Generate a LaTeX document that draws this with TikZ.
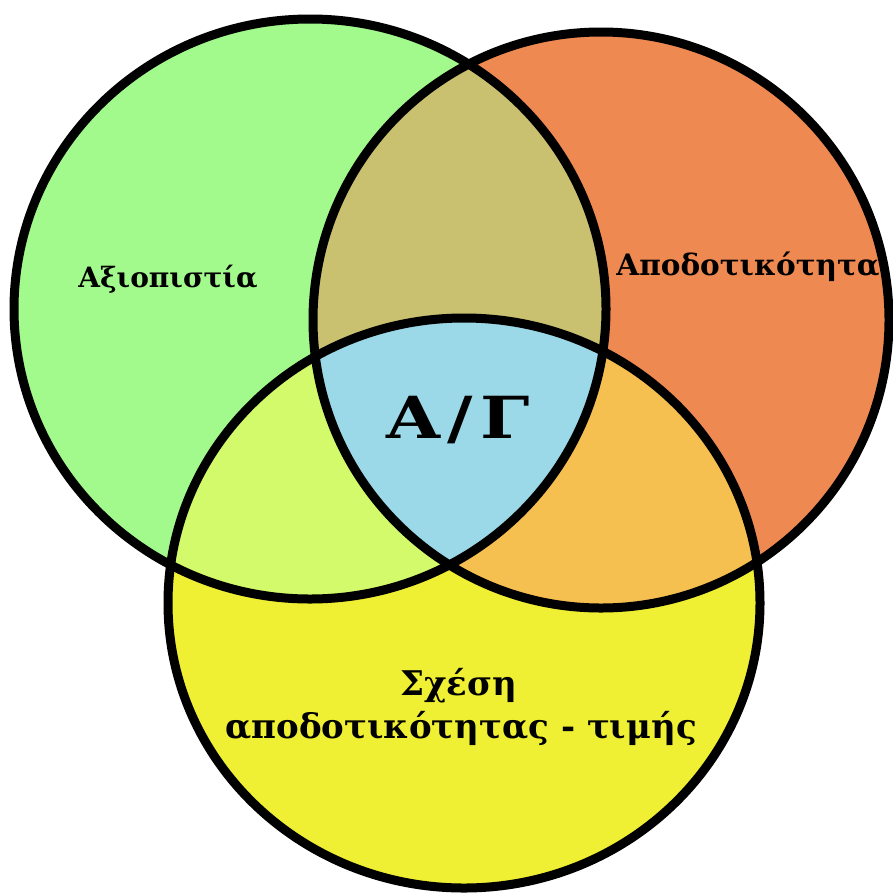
\documentclass[tikz,border=0pt]{standalone}
\usepackage{fontspec}
\newfontfamily\grfont{DejaVu Serif}
\definecolor{cgreen}{RGB}{162,249,140}
\definecolor{corange}{RGB}{239,137,82}
\definecolor{cyellow}{RGB}{239,239,51}
\definecolor{cgo}{RGB}{201,192,112}
\definecolor{cgy}{RGB}{210,250,106}
\definecolor{coy}{RGB}{246,192,80}
\definecolor{ccenter}{RGB}{155,216,232}
\tikzset{
  ring/.style={draw=black, line width=9pt},
  lbl/.style={anchor=base, inner sep=0pt, font=\grfont\bfseries\fontsize{28}{32}\selectfont},
  lblbig/.style={anchor=base, inner sep=0pt, font=\grfont\bfseries\fontsize{34}{40}\selectfont},
  biglbl/.style={anchor=base, inner sep=0pt, font=\grfont\bfseries\fontsize{58}{64}\selectfont}
}
\newcommand{\gshape}{(310,309) ellipse [x radius=296, y radius=290]}
\newcommand{\oshape}{(601,320) ellipse [x radius=288, y radius=288]}
\newcommand{\yshape}{(464,603) ellipse [x radius=296, y radius=285]}
\begin{document}
\begin{tikzpicture}[x=1pt,y=-1pt]
\useasboundingbox (0,0) rectangle (893,892);
% base fills
\fill[cgreen] \gshape;
\fill[corange] \oshape;
\fill[cyellow] \yshape;
% pairwise intersections
\begin{scope}\clip \gshape; \fill[cgo] \oshape; \end{scope}
\begin{scope}\clip \gshape; \fill[cgy] \yshape; \end{scope}
\begin{scope}\clip \oshape; \fill[coy] \yshape; \end{scope}
\begin{scope}\clip \gshape; \clip \oshape; \fill[ccenter] \yshape; \end{scope}
% outlines
\draw[ring] \gshape;
\draw[ring] \oshape;
\draw[ring] \yshape;
% labels
\node[lbl] (axio) at (168,287) {Αξιοπιστία};
\node[lbl, font=\grfont\bfseries\fontsize{29.5}{34}\selectfont] (apod) at (748,275) {Αποδοτικότητα};
\node[biglbl] (ag) at (458,438) {\scalebox{1.2}[1]{Α\kern6pt/\kern6ptΓ}};
\node[lblbig] (sx1) at (459,695) {Σχέση};
\node[lblbig] (sx2) at (461,738) {αποδοτικότητας - τιμής};
\end{tikzpicture}
\end{document}
